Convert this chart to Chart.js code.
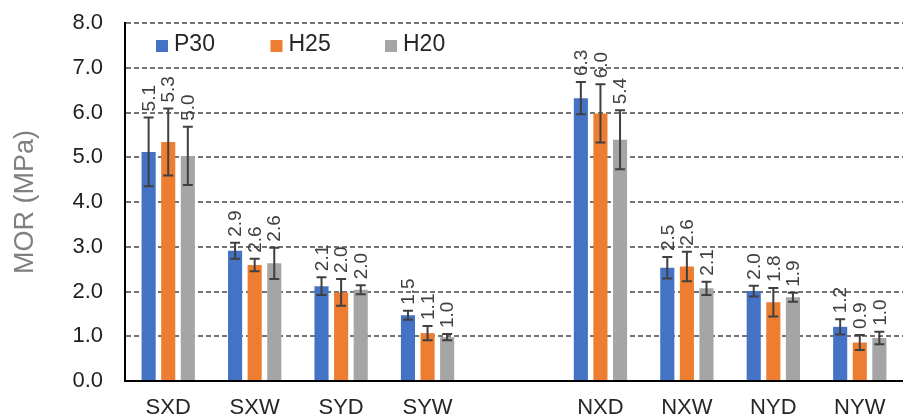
<!DOCTYPE html>
<html>
<head>
<meta charset="utf-8">
<script src="https://cdn.jsdelivr.net/npm/chart.js@4"></script>
<style>
  html, body { margin: 0; padding: 0; background: #fff; }
  #wrap { width: 903px; height: 420px; }
</style>
</head>
<body>
<div id="wrap"><canvas id="morChart" width="903" height="420"></canvas></div>
<script>
// MOR by specimen group, three mixes, with standard deviation bars
const categories = ['SXD', 'SXW', 'SYD', 'SYW', '', 'NXD', 'NXW', 'NYD', 'NYW'];
const seriesNames = ['P30', 'H25', 'H20'];

const p30 = [5.12, 2.91, 2.12, 1.47, null, 6.32, 2.53, 2.01, 1.21];
const h25 = [5.34, 2.59, 1.98, 1.07, null, 5.98, 2.56, 1.76, 0.86];
const h20 = [5.03, 2.63, 2.04, 0.98, null, 5.39, 2.07, 1.87, 0.96];

const p30Err = [0.77, 0.18, 0.20, 0.10, null, 0.36, 0.24, 0.12, 0.17];
const h25Err = [0.75, 0.14, 0.30, 0.16, null, 0.65, 0.33, 0.32, 0.17];
const h20Err = [0.65, 0.35, 0.10, 0.07, null, 0.66, 0.15, 0.10, 0.14];

const yTicks = [0, 1, 2, 3, 4, 5, 6, 7, 8];

const colors = ['#4472C4', '#ED7D31', '#A5A5A5'];
const FONT = "'Liberation Sans', Arial, sans-serif";

const errorBarPlugin = {
    id: 'errorBarsAndLabels',
    afterDatasetsDraw: (chart) => {
        const {ctx} = chart;
        const yScale = chart.scales.y;
        chart.data.datasets.forEach((ds, di) => {
            const meta = chart.getDatasetMeta(di);
            meta.data.forEach((bar, i) => {
                const v = ds.data[i];
                const e = ds.errors[i];
                if (v === null || e === null) return;
                const yTop = yScale.getPixelForValue(v + e);
                const yBot = yScale.getPixelForValue(v - e);
                ctx.save();
                ctx.strokeStyle = '#404040';
                ctx.lineWidth = 2;
                ctx.beginPath();
                ctx.moveTo(bar.x, yTop);
                ctx.lineTo(bar.x, yBot);
                ctx.moveTo(bar.x - 5, yTop);
                ctx.lineTo(bar.x + 5, yTop);
                ctx.moveTo(bar.x - 5, yBot);
                ctx.lineTo(bar.x + 5, yBot);
                ctx.stroke();
                // rotated value label above the error bar
                ctx.translate(bar.x + 1, yTop - 6);
                ctx.rotate(-Math.PI / 2);
                ctx.fillStyle = '#404040';
                ctx.font = '19px ' + FONT;
                ctx.textAlign = 'left';
                ctx.textBaseline = 'middle';
                ctx.fillText(v.toFixed(1), 0, 0);
                ctx.restore();
            });
        });
    },
    afterDraw: (chart) => {
        // legend sits inside the plot, top left
        const {ctx, chartArea} = chart;
        ctx.save();
        ctx.font = '23px ' + FONT;
        ctx.textBaseline = 'middle';
        ctx.textAlign = 'left';
        seriesNames.forEach((name, i) => {
            const x = chartArea.left + 31 + i * 114.5;
            ctx.fillStyle = colors[i];
            ctx.fillRect(x, 40, 12, 12);
            ctx.fillStyle = '#262626';
            ctx.fillText(name, x + 18, 45);
        });
        ctx.restore();
    }
};

const bgPlugin = {
    id: 'whiteBg',
    beforeDraw: (chart) => {
        const {ctx} = chart;
        ctx.save();
        ctx.fillStyle = '#fff';
        ctx.fillRect(0, 0, chart.width, chart.height);
        ctx.restore();
    }
};

const errs = [p30Err, h25Err, h20Err];
const datasets = [p30, h25, h20].map((d, i) => ({
    label: seriesNames[i],
    data: d,
    errors: errs[i],
    backgroundColor: colors[i],
    borderWidth: 0,
    barPercentage: 0.72,
    categoryPercentage: 0.68
}));

new Chart(document.getElementById('morChart'), {
    type: 'bar',
    data: { labels: categories, datasets: datasets },
    options: {
        responsive: false,
        animation: false,
        devicePixelRatio: 1,
        layout: { padding: { top: 23, right: 0, bottom: 0, left: 0 } },
        plugins: {
            legend: { display: false },
            tooltip: { enabled: false }
        },
        scales: {
            x: {
                grid: { display: false, drawTicks: false },
                border: { display: true, color: '#000', width: 2 },
                ticks: { color: '#262626', font: { family: FONT, size: 22 }, padding: 14, maxRotation: 0 },
                afterFit: (scale) => { scale.height = 39; }
            },
            y: {
                min: 0,
                max: 8,
                afterBuildTicks: (scale) => { scale.ticks = yTicks.map(v => ({ value: v })); },
                grid: {
                    drawTicks: false,
                    color: (c) => c.tick && c.tick.value === 0 ? 'rgba(0,0,0,0)' : '#737373',
                    lineWidth: 2
                },
                border: { display: true, color: '#000', width: 2, dash: [5, 3] },
                ticks: {
                    color: '#1f1f1f',
                    font: { family: FONT, size: 22 },
                    padding: 22,
                    callback: (v) => Number(v).toFixed(1)
                },
                title: {
                    display: true,
                    text: 'MOR (MPa)',
                    color: '#7f7f7f',
                    font: { family: FONT, size: 27 },
                    padding: { top: 9, bottom: 0 }
                },
                afterFit: (scale) => {
                    scale.width = 125;
                    scale.paddingTop = 0;
                    scale.paddingBottom = 0;
                }
            }
        }
    },
    plugins: [bgPlugin, errorBarPlugin]
});
</script>
</body>
</html>
